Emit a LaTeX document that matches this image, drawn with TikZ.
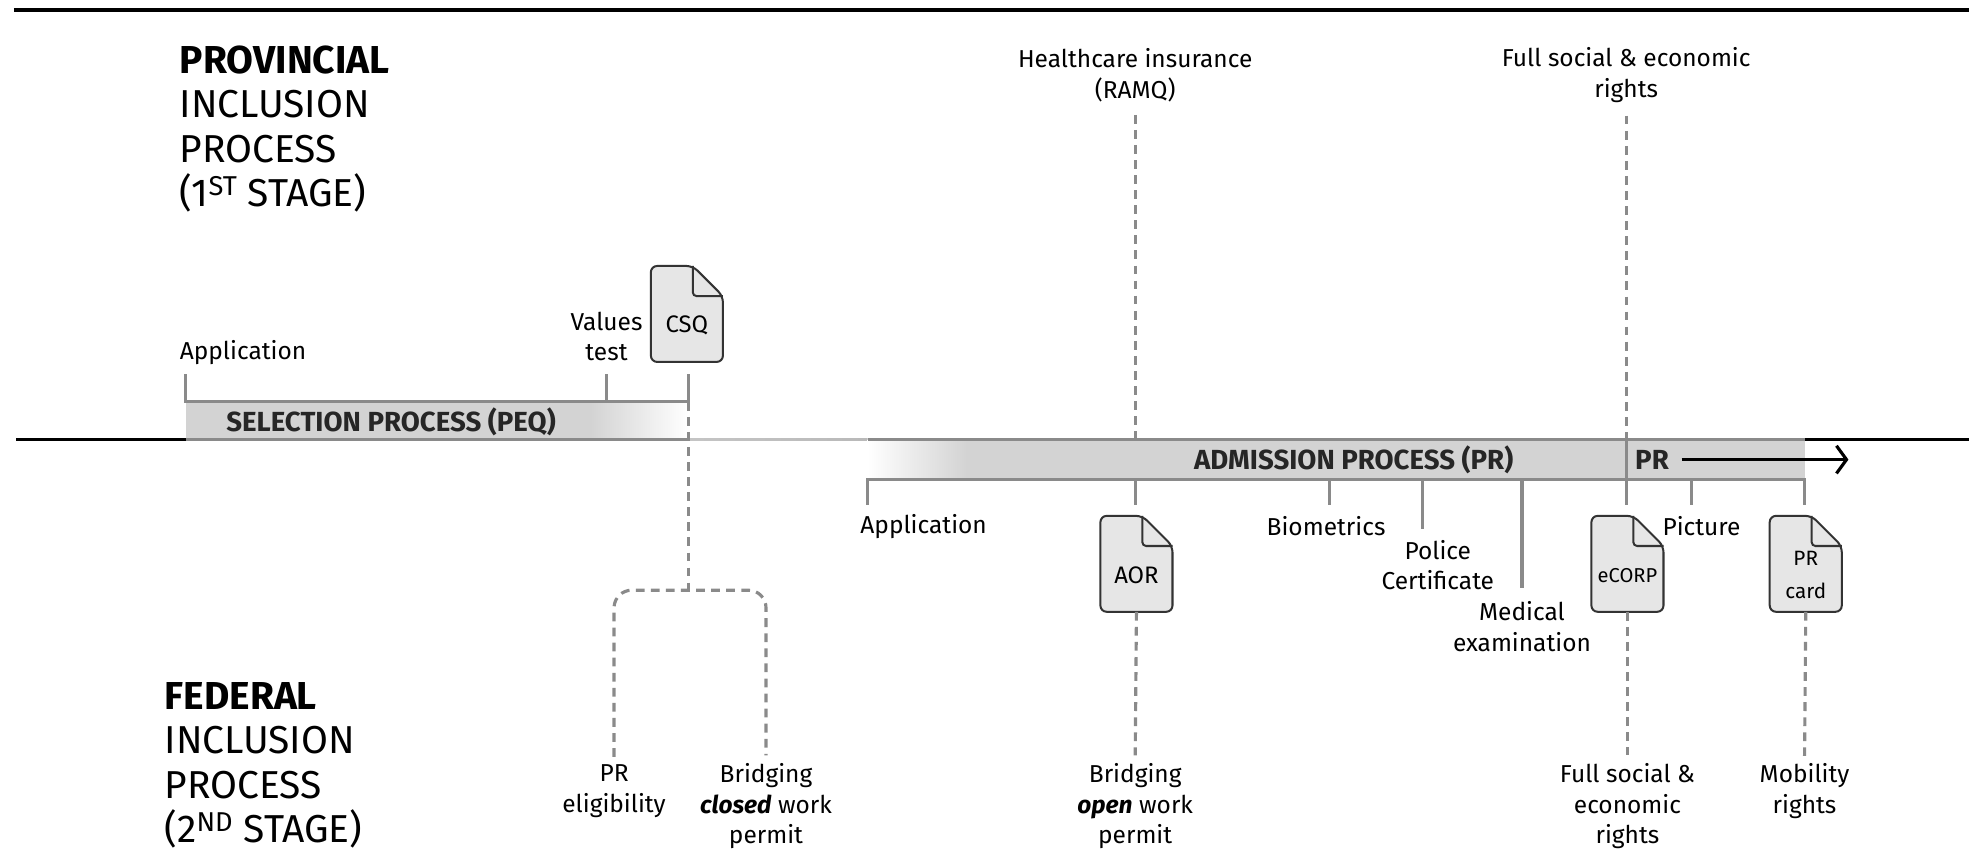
\documentclass[tikz,border=0pt]{standalone}
\usepackage{fontspec}
\setmainfont{Fira Sans}
\usetikzlibrary{positioning,arrows.meta,backgrounds}

\definecolor{linegray}{HTML}{8A8A8A}
\definecolor{barfill}{HTML}{D3D3D3}
\definecolor{docfill}{HTML}{E6E6E6}
\definecolor{docline}{HTML}{333333}

% document icon round a named node
\newcommand{\docicon}[1]{%
  \begin{pgfonlayer}{background}
    \draw[docedge, rounded corners=5pt]
      ([xshift=-24pt,yshift=18pt]#1.north east) -- ([yshift=18pt]#1.north west)
      -- (#1.south west) -- (#1.south east) -- ([yshift=-6pt]#1.north east) -- cycle;
    \draw[docedge, fill=none, rounded corners=3pt]
      ([xshift=-24pt,yshift=18pt]#1.north east) -- ([xshift=-24pt,yshift=-6pt]#1.north east)
      -- ([yshift=-6pt]#1.north east);
  \end{pgfonlayer}}

\begin{document}
\begin{tikzpicture}
	[x=1pt,y=-1pt,
	 rule/.style={line width=2.5pt,black},
	 bracket/.style={line width=2.5pt,linegray},
	 dashline/.style={line width=2.5pt,linegray,dash pattern=on 7pt off 5pt},
	 txt/.style={font=\fontsize{19.5}{24.5}\selectfont,align=center,inner sep=2pt},
	 head/.style={font=\fontsize{31}{35.5}\selectfont,align=left,anchor=north west,inner sep=0pt},
	 bartxt/.style={font=\fontsize{22}{24}\selectfont\bfseries,text=black!85,inner sep=0pt},
	 docbox/.style={minimum width=57pt,minimum height=58pt,inner sep=0pt,align=center,font=\fontsize{19}{22}\selectfont},
	 docedge/.style={line width=1.6pt,draw=docline,fill=docfill}]

	\useasboundingbox (0,0) rectangle (1568,690);

	% stage rules
	\draw[rule] (11,8) -- (1568,8);
	\draw[rule] (13,350) -- (148,350);
	\draw[rule] (1437,350) -- (1568,350);

	\node[head] (prov) at (143,36) {\textbf{PROVINCIAL}\\INCLUSION\\PROCESS\\(1\textsuperscript{ST} STAGE)};
	\node[head] (fed) at (131,543) {\textbf{FEDERAL}\\INCLUSION\\PROCESS\\(2\textsuperscript{ND} STAGE)};

	% selection bar
	\fill[barfill] (148,320) rectangle (470,350);
	\shade[left color=barfill,right color=white] (470,320) rectangle (548,350);
	\draw[bracket] (148,350) -- (548,350);
	\shade[left color=linegray!50,middle color=linegray!10,right color=linegray!60] (548,349) rectangle (691,351);
	\node[bartxt,anchor=west] (selbar) at (180,336) {SELECTION PROCESS (PEQ)};

	% admission bar
	\shade[left color=white,right color=barfill] (691,350) rectangle (770,382);
	\fill[barfill] (770,350) rectangle (1437,382);
	\draw[bracket] (691,350) -- (1437,350);
	\draw[bracket] (1295,350) -- (1295,382);
	\node[bartxt] (admbar) at (1078,366) {ADMISSION PROCESS (PR)};
	\node[bartxt,anchor=west] (prbar) at (1302,366) {PR};
	\coordinate (prend) at (1472,366);
	\draw[line width=2.5pt,-{Straight Barb[length=8pt,width=22pt]},shorten <=10pt] (prbar.east) -- (prend);

	% selection ticks
	\coordinate (selA) at (148,298);
	\coordinate (selV) at (483,298);
	\coordinate (selC) at (548,298);
	\coordinate (selCb) at (548,320);
	\draw[bracket] (selA) -- (148,320) -- (selCb) -- (selC);
	\draw[bracket] (selV) -- (483,320);

	% admission ticks
	\draw[bracket] (691,402) -- (691,382) -- (1437,382) -- (1437,402);
	\foreach \x in {904,1059,1295,1347}
		\draw[bracket] (\x,382) -- (\x,402);
	\draw[bracket] (1133,382) -- (1133,421);
	\draw[bracket] (1212,382) -- (1212,468);

	% documents
	\node[docbox] (csq) at (547,259) {CSQ};
	\node[docbox] (aor) at (905,458) {AOR};
	\node[docbox,font=\fontsize{16}{18}\selectfont] (ecorp) at (1296,458) {eCORP};
	\node[docbox,font=\fontsize{16.5}{26}\selectfont] (prcard) at (1438,458) {PR\\card};
	\docicon{csq}
	\docicon{aor}
	\docicon{ecorp}
	\docicon{prcard}

	% labels
	\node[txt,anchor=west] (appsel) at (141,281) {Application};
	\node[txt] (values) at (483,268) {Values\\test};
	\node[txt] (ramq) at (904,60) {Healthcare insurance\\(RAMQ)};
	\node[txt] (socialtop) at (1295,60) {Full social \& economic\\rights};
	\node[txt,anchor=west] (appadm) at (683,419) {Application};
	\node[txt] (biom) at (1056,419) {Biometrics};
	\node[txt] (police) at (1145,450) {Police\\Certificate};
	\node[txt] (medical) at (1212,499) {Medical\\examination};
	\node[txt] (picture) at (1355,419) {Picture};
	\node[txt] (preli) at (489,630) {PR\\eligibility};
	\node[txt] (closed) at (610,642) {Bridging\\\textbf{\textit{closed}} work\\permit};
	\node[txt] (openp) at (904,642) {Bridging\\\textbf{\textit{open}} work\\permit};
	\node[txt] (socialbot) at (1296,642) {Full social \&\\economic\\rights};
	\node[txt] (mobility) at (1437,630) {Mobility\\rights};

	% dashed links
	\coordinate (ramqpt) at (904,350);
	\coordinate (socialpt) at (1295,350);
	\coordinate (csqjoin) at (548,470);
	\draw[dashline,shorten <=8pt] (ramq.south) -- (ramqpt);
	\draw[dashline,shorten <=8pt] (socialtop.south) -- (socialpt);
	\draw[dashline] (selCb) -- (csqjoin);
	\draw[dashline,rounded corners=14pt,shorten <=4pt,shorten >=4pt] (preli.north) |- (csqjoin) -| (closed.north);
	\draw[dashline,shorten >=4pt] (aor.south) -- (openp.north);
	\draw[dashline,shorten >=4pt] (ecorp.south) -- (socialbot.north);
	\draw[dashline,shorten >=4pt] (prcard.south) -- (mobility.north);
\end{tikzpicture}
\end{document}
